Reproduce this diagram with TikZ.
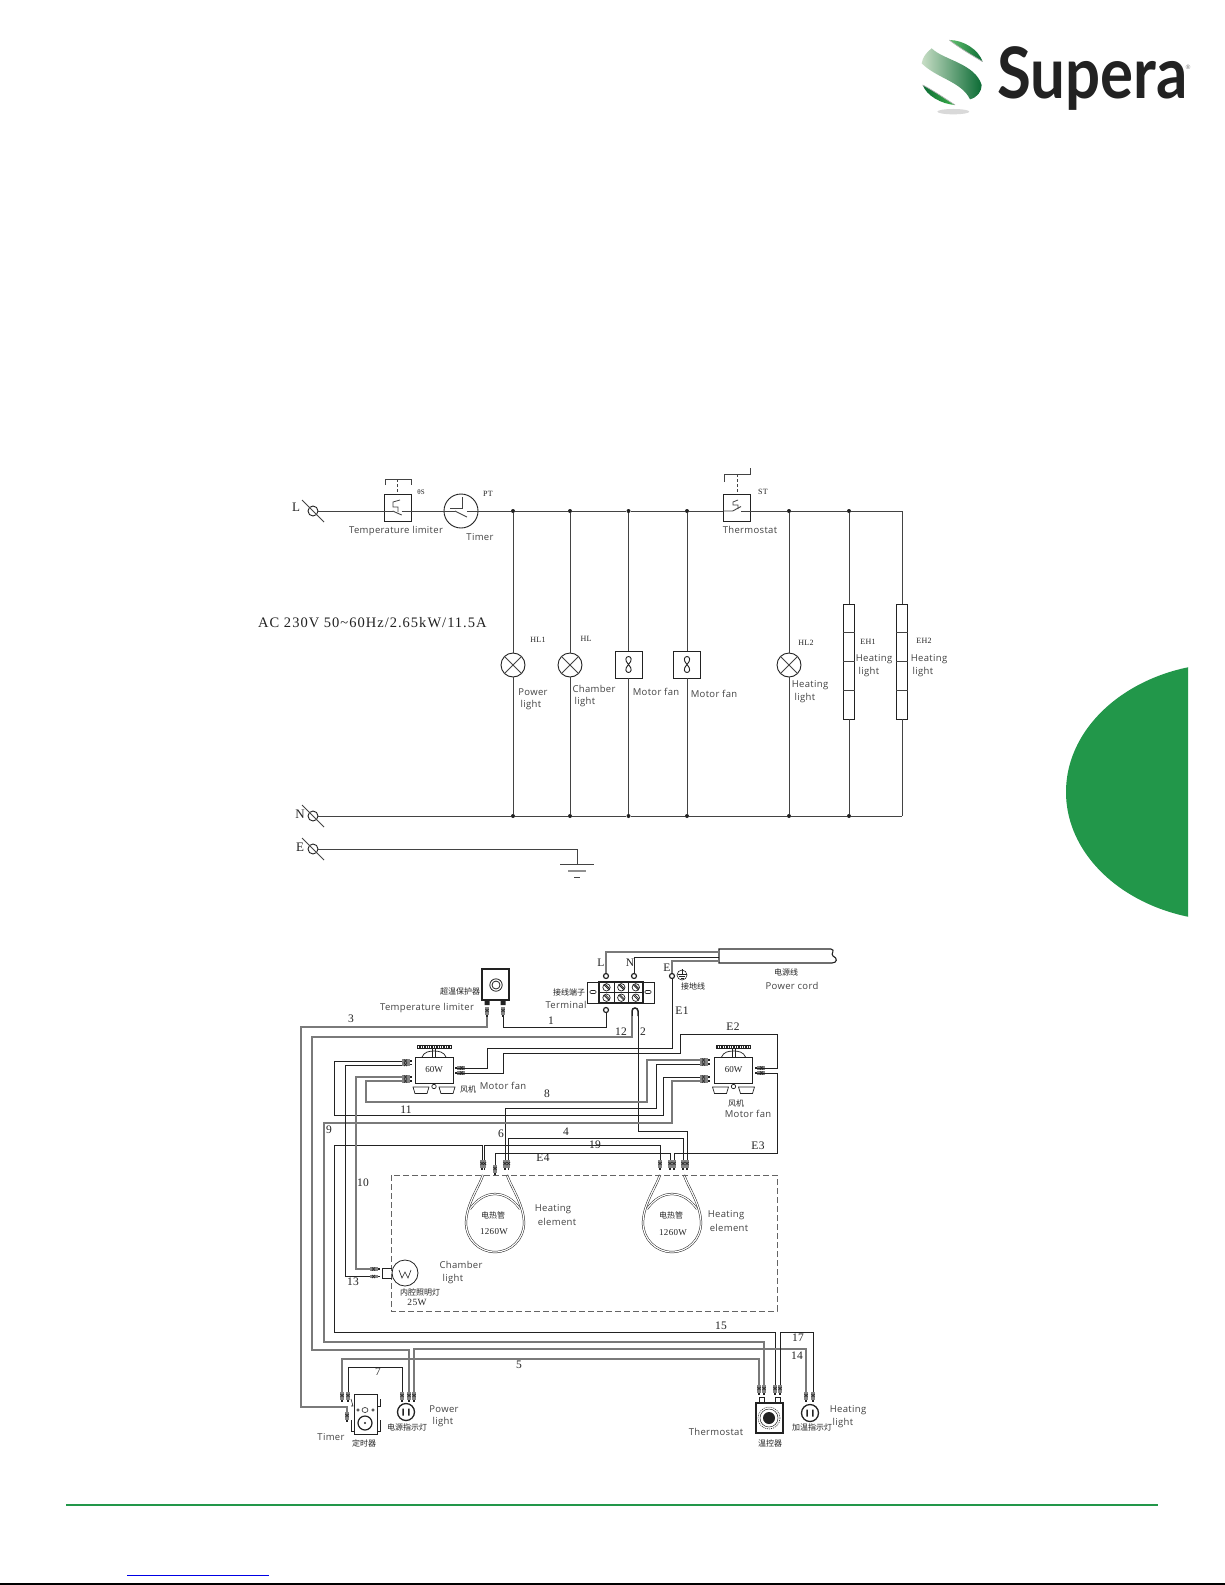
\documentclass[tikz,border=0pt]{standalone}
\usepackage{fontspec}
\usepackage{graphicx}
\setmainfont{Liberation Serif}
\newfontfamily\labf[LetterSpace=3.5]{Open Sans}
\newfontfamily\serf[LetterSpace=3]{Liberation Serif}
\newfontfamily\acf[LetterSpace=7]{Liberation Serif}
\newfontfamily\cjkf{Noto Sans CJK SC}
\newfontfamily\logof{Lato}
\usetikzlibrary{calc}
\definecolor{sgreen}{HTML}{22974A}
\definecolor{ink}{HTML}{222222}
\definecolor{palegreen}{HTML}{C8DEC6}
\definecolor{vivid}{HTML}{3CB14A}
\definecolor{deepgreen}{HTML}{0B6B34}
\tikzset{
  labtxt/.style={font=\labf\fontsize{9.5}{10}\selectfont,text=ink!85,inner sep=0pt},
  sertxt/.style={font=\serf\fontsize{11.5}{12}\selectfont,text=ink,inner sep=0pt},
  tagtxt/.style={font=\serf\fontsize{8}{9}\selectfont,text=ink,inner sep=0pt},
  cjktxt/.style={font=\cjkf\fontsize{8}{9}\selectfont,text=ink,inner sep=0pt},
  line/.style={draw=ink!85,line width=.9pt},
  wire/.style={draw=ink,line width=1pt,line join=miter},
  gwire/.style={draw=ink!60,line width=1.2pt,line join=miter},
  dot/.style={circle,fill=ink,inner sep=0pt,minimum size=4pt},
  termin/.style={circle,draw=ink,line width=.9pt,inner sep=0pt,minimum size=10pt},
  lampn/.style={circle,draw=ink,line width=.9pt,inner sep=0pt,minimum size=24pt},
  boxn/.style={draw=ink,line width=.9pt,inner sep=0pt,minimum width=27pt,minimum height=27pt},
  ring/.style={circle,draw=ink,line width=1.2pt,inner sep=0pt,minimum size=5pt},
  pics/vconn/.style={code={
    \fill[ink!55] (-1.6,0) rectangle (1.6,8);
    \draw[ink,line width=.6pt] (-1.6,2)--(1.6,5) (-1.6,5)--(1.6,2);
    \fill[ink] (-.8,8) rectangle (.8,10);
  }},
  pics/hconn/.style={code={
    \fill[ink!55] (0,-1.6) rectangle (8,1.6);
    \draw[ink,line width=.6pt] (2,-1.6)--(5,1.6) (5,-1.6)--(2,1.6);
    \fill[ink] (8,-.8) rectangle (10,.8);
  }},
  pics/hconnr/.style={code={
    \fill[ink!55] (0,-1.6) rectangle (-8,1.6);
    \draw[ink,line width=.6pt] (-2,-1.6)--(-5,1.6) (-5,-1.6)--(-2,1.6);
    \fill[ink] (-8,-.8) rectangle (-10,.8);
  }},
  pics/fanfig/.style={code={
    \draw[ink,line width=.9pt] (0,0) .. controls (-4,-4) and (-3,-8) .. (0,-8) .. controls (3,-8) and (4,-4) .. (0,0)
      .. controls (-4,4) and (-3,8) .. (0,8) .. controls (3,8) and (4,4) .. (0,0);
  }},
  pics/motor/.style={code={
    \draw[ink,line width=.8pt,fill=white] (-19,-13) rectangle (19,13);
    \draw[ink,line width=.7pt] (-12,-13) .. controls (-10,-18) and (-5,-19) .. (0,-19) .. controls (5,-19) and (10,-18) .. (12,-13);
    \draw[ink,line width=.7pt] (-1.5,-22) -- (-1.5,-13) (1.5,-22) -- (1.5,-13);
    \draw[ink,line width=.6pt] (-17,-24.5) rectangle (17,-21.5);
    \draw[ink,line width=2.4pt,dash pattern=on 1.4pt off 1pt] (-17,-23) -- (17,-23);
    \draw[ink,line width=.7pt] (-21,17) -- (-5,17) -- (-7,23.5) -- (-19,23.5) -- cycle;
    \draw[ink,line width=.7pt] (5,17) -- (21,17) -- (19,23.5) -- (7,23.5) -- cycle;
    \draw[ink,line width=.7pt,fill=white] (0,16.5) circle[radius=2.2];
    \draw[ink,line width=.7pt] (0,13) -- (0,14.5);
    \node[font=\fontsize{9}{10}\selectfont,text=ink,inner sep=0pt] (-w) at (0,0) {60W};
  }},
  pics/heater/.style={code={
    \draw[ink,line width=.5pt,double=white,double distance=1.2pt]
      (-12,-48) .. controls (-16,-36) and (-29,-18) .. (-29,0)
      .. controls (-29,16) and (-16,29) .. (0,29) .. controls (16,29) and (29,16) .. (29,0)
      .. controls (29,-18) and (16,-36) .. (12,-48);
    \draw[ink,line width=.5pt,double=white,double distance=1.2pt]
      (-25,-14) .. controls (-18,-24) and (-9,-29) .. (0,-29) .. controls (9,-29) and (18,-24) .. (25,-14);
  }},
  pics/plug/.style={code={
    \draw[ink,line width=1.3pt,fill=white] (0,0) circle[radius=8.5];
    \fill[ink] (-3.6,-3.5) rectangle (-2.2,3.5) (2.2,-3.5) rectangle (3.6,3.5);
  }},
  pics/scell/.style={code={
    \draw[ink,line width=.7pt] (0,0) circle[radius=3.7];
    \draw[ink,line width=.8pt] (-2.6,-2.6) -- (2.6,2.6);
    \draw[ink,line width=.8pt] (-1.2,-3) -- (3,1.2);
  }}
}
\begin{document}
\begin{tikzpicture}[x=1pt,y=-1pt]
\useasboundingbox (0,0) rectangle (1225,1585);
\fill[white] (0,0) rectangle (1225,1585);

% ---------- page furniture ----------
\begin{scope}
  \clip (1000,600) rectangle (1188,1000);
  \fill[sgreen] (1230,792) ellipse[x radius=164,y radius=129];
\end{scope}
\draw[sgreen,line width=2pt] (66,1505) -- (1158,1505);
\draw[blue!90!black,line width=1pt] (127,1575) -- (269,1575);
\draw[black,line width=1.4pt] (0,1584) -- (1225,1584);

% ---------- logo ----------
\begin{scope}[shift={(900,20)},x=.3333pt,y=-.3333pt]
  \shade[left color=vivid!80,right color=deepgreen]
    (148,60) .. controls (190,60) and (235,88) .. (248,125) .. controls (215,105) and (180,85) .. cycle;
  \draw[gray!60,line width=.7pt] (248,125) .. controls (215,105) and (180,85) .. (148,60);
  \shade[left color=deepgreen,right color=vivid]
    (68,195) .. controls (80,228) and (125,252) .. (165,255) .. controls (130,232) and (100,212) .. cycle;
  \draw[gray!60,line width=.7pt] (165,255) .. controls (130,232) and (100,212) .. (68,195);
  \shade[left color=palegreen,middle color=vivid,right color=deepgreen]
    (95,85) .. controls (130,120) and (225,130) .. (245,195) .. controls (245,215) and (232,232) .. (210,238)
    .. controls (185,185) and (110,175) .. (65,130) .. controls (68,112) and (78,98) .. cycle;
  \fill[gray!30] (160,275) ellipse[x radius=48,y radius=8];
\end{scope}
\node[anchor=base west,inner sep=0pt,text=ink,font=\logof\bfseries\fontsize{71}{71}\selectfont] (logotxt) at (997,98) {\scalebox{.87}[1]{Supera}};
\node[inner sep=0pt,text=gray,font=\logof\fontsize{6}{6}\selectfont] (logor) at (1188,67) {®};

% ---------- upper schematic: nodes ----------
\node[termin] (tL) at (313,511) {};
\node[termin] (tN) at (313,816) {};
\node[termin] (tE) at (313,849) {};
\node[boxn] (lim) at (398,507.5) {};
\node[circle,draw=ink,line width=.9pt,inner sep=0pt,minimum size=34pt] (timer) at (461,511) {};
\node[boxn] (ther) at (737,507.5) {};
\node[dot] (j1) at (513,511) {};
\node[dot] (j2) at (570,511) {};
\node[dot] (j3) at (628.5,511) {};
\node[dot] (j4) at (687,511) {};
\node[dot] (j5) at (789,511) {};
\node[dot] (j6) at (849,511) {};
\coordinate (j7) at (902,511);
\node[dot] (b1) at (513,816) {};
\node[dot] (b2) at (570,816) {};
\node[dot] (b3) at (628.5,816) {};
\node[dot] (b4) at (687,816) {};
\node[dot] (b5) at (789,816) {};
\node[dot] (b6) at (849,816) {};
\coordinate (b7) at (902,816);
\node[lampn] (hl1) at (513,665) {};
\node[lampn] (hl) at (570,665) {};
\node[lampn] (hl2) at (789,665) {};
\node[boxn] (f1) at (628.5,664.5) {};
\node[boxn] (f2) at (687,664.5) {};
\pic at (628.5,664.5) {fanfig};
\pic at (687,664.5) {fanfig};
\foreach \n in {hl1,hl,hl2}{\draw[line] (\n.45) -- (\n.225) (\n.135) -- (\n.315);}
\node[draw=ink,line width=.9pt,inner sep=0pt,minimum width=11pt,minimum height=115pt] (eh1) at (849,661.5) {};
\node[draw=ink,line width=.9pt,inner sep=0pt,minimum width=11pt,minimum height=115pt] (eh2) at (902,661.5) {};
\foreach \n in {eh1,eh2}\foreach \d in {-28.7,0,28.7}{\draw[line] ($(\n.west)+(0,\d)$) -- ($(\n.east)+(0,\d)$);}
\foreach \n in {tL,tN,tE}{\draw[line,line width=.8pt] ($(\n)+(-11,-11)$) -- ($(\n)+(11,11)$);}
\coordinate (g0) at (577,864);
\coordinate (limW) at (lim.west |- tL);
\coordinate (limE) at (lim.east |- tL);
\coordinate (thW) at (ther.west |- tL);
\coordinate (thE) at (ther.east |- tL);

% upper schematic: connectors
\draw[line] (tL) -- (limW);
\draw[line] (limW) -- (392.7,511);
\draw[line] (392.7,511) -- (401.7,515);
\draw[line] (401.7,511) -- (limE);
\draw[line] (limE) -- (timer.west);
\draw[line] (timer.west) -- (455,511);
\draw[line] (455,511) -- (467,517);
\draw[line] (450,508) -- (462,508) -- (462,497);
\draw[line] (467,511) -- (j1);
\draw[line] (j1) -- (j2);
\draw[line] (j2) -- (j3);
\draw[line] (j3) -- (j4);
\draw[line] (j4) -- (thW);
\draw[line] (thW) -- (732.7,511) -- (741,506.5);
\draw[line] (741,511) -- (thE);
\draw[line] (thE) -- (j5);
\draw[line] (j5) -- (j6);
\draw[line] (j6) -- (j7);
\draw[line] (tN) -- (b1);
\draw[line] (b1) -- (b2);
\draw[line] (b2) -- (b3);
\draw[line] (b3) -- (b4);
\draw[line] (b4) -- (b5);
\draw[line] (b5) -- (b6);
\draw[line] (b6) -- (b7);
\draw[line] (j1) -- (hl1);
\draw[line] (hl1) -- (b1);
\draw[line] (j2) -- (hl);
\draw[line] (hl) -- (b2);
\draw[line] (j3) -- (f1);
\draw[line] (f1) -- (b3);
\draw[line] (j4) -- (f2);
\draw[line] (f2) -- (b4);
\draw[line] (j5) -- (hl2);
\draw[line] (hl2) -- (b5);
\draw[line] (j6) -- (eh1);
\draw[line] (eh1) -- (b6);
\draw[line] (j7) -- (eh2);
\draw[line] (eh2) -- (b7);
\draw[line] (tE) -| (g0);
\draw[line] (560,864) -- (594,864);
\draw[ink!50,line width=1.2pt] (568,871) -- (586,871);
\draw[line] (574,877) -- (580,877);
% sensor details
\draw[line] (385,485) -- (385,479) -- (411,479) -- (411,485);
\draw[line,dash pattern=on 3pt off 2pt] (397,479) -- (397,494);
\draw[line,line width=.8pt] (400,500) -- (393,502) -- (393,507) -- (398,507) -- (398,512);
\draw[line] (724,482) -- (724,474) -- (750,474) -- (750,468);
\draw[line,dash pattern=on 3pt off 2pt] (737,474) -- (ther.north);
\draw[line,line width=.8pt] (738,500) -- (733,502) -- (733,505) -- (738,505) -- (738,509);

% upper schematic: texts
\node[font=\fontsize{13}{14}\selectfont,text=ink,inner sep=0pt] (lL) at (296,507) {L};
\node[font=\fontsize{13}{14}\selectfont,text=ink,inner sep=0pt] (lN) at (300,814) {N};
\node[font=\fontsize{13}{14}\selectfont,text=ink,inner sep=0pt] (lE) at (300,847) {E};
\node[anchor=west,font=\acf\fontsize{14.5}{16}\selectfont,text=ink,inner sep=0pt] (ac) at (258,623) {AC 230V 50\char"007E 60Hz/2.65kW/11.5A};
\node[tagtxt] (tS) at (421,492) {\fontsize{7}{8}\selectfont θS};
\node[tagtxt] (tPT) at (488,494) {PT};
\node[tagtxt] (tST) at (763,492) {ST};
\node[tagtxt] (tHL1) at (538,640) {HL1};
\node[tagtxt] (tHL) at (586,639) {HL};
\node[tagtxt] (tHL2) at (806,643) {HL2};
\node[tagtxt] (tEH1) at (868,642) {EH1};
\node[tagtxt] (tEH2) at (924,641) {EH2};
\node[labtxt] (a1) at (396,531) {Temperature limiter};
\node[labtxt] (a2) at (480,537) {Timer};
\node[labtxt] (a3) at (750,530) {Thermostat};
\node[labtxt] (a4) at (533,692) {Power};
\node[labtxt] (a5) at (531,705) {light};
\node[labtxt] (a6) at (594,689) {Chamber};
\node[labtxt] (a7) at (585,702) {light};
\node[labtxt] (a8) at (656,692) {Motor fan};
\node[labtxt] (a9) at (714,694) {Motor fan};
\node[labtxt] (a10) at (810,685) {Heating};
\node[labtxt] (a11) at (805,698) {light};
\node[labtxt] (a12) at (874,659) {Heating};
\node[labtxt] (a13) at (869,672) {light};
\node[labtxt] (a14) at (929,659) {Heating};
\node[labtxt] (a15) at (923,672) {light};

% ---------- lower diagram: devices ----------
% temperature limiter
\node[draw=ink,line width=1.2pt,fill=white,inner sep=0pt,minimum width=27pt,minimum height=31pt] (lbox) at (495.5,984.5) {};
\draw[ink,line width=.8pt] (496,985) circle[radius=6.2] (496,985) circle[radius=4];
\fill[ink] (484.5,1000) rectangle (489.5,1005) (500.5,1000) rectangle (505.5,1005);
\pic at (487,1007) {vconn};
\pic at (503,1007) {vconn};
% terminal block
\node[draw=ink,line width=.8pt,inner sep=0pt,minimum width=67pt,minimum height=21pt] (tblock) at (620.5,992.5) {};
\draw[ink,line width=1.2pt] (599,982) rectangle (643,1003);
\draw[ink,line width=1pt] (599,992.5) -- (643,992.5) (614,982) -- (614,1003) (628.5,982) -- (628.5,1003);
\foreach \x in {606.5,621.3,635.8}{\pic at (\x,987.3) {scell}; \pic at (\x,997.7) {scell};}
\draw[ink,line width=.6pt,rounded corners=1pt] (590,990.5) rectangle (596,993.5);
\draw[ink,line width=.6pt,rounded corners=1pt] (645,990.5) rectangle (651,993.5);
\node[ring] (rL) at (606,976) {};
\node[ring] (rN) at (634,976) {};
\node[ring] (rE) at (672,976) {};
\node[ring] (rB) at (606,1010) {};
\draw[ink,line width=1.5pt] (632,1016) -- (632,1011) .. controls (632,1007) and (638,1007) .. (638,1011) -- (638,1016);
\coordinate (rA1) at (632,1016);
\coordinate (rA2) at (638,1016);
% ground mark
\draw[ink,line width=.6pt] (682,975) circle[radius=5];
\draw[ink,line width=.6pt] (682,969) -- (682,974) (677.5,974) -- (686.5,974) (679,976) -- (685,976) (680.5,978) -- (683.5,978);
% cord
\path (719,949) coordinate (cordA) (719,952) coordinate (cL) (719,957) coordinate (cN) (719,961) coordinate (cE);
\draw[ink,line width=1.1pt] (719,949) -- (831,949) .. controls (836,950) and (830,954) .. (833,956) .. controls (838,958) and (837,963) .. (832,963) -- (719,963) -- cycle;
% motors
\pic (m1) at (434,1070) {motor};
\pic (m2) at (733.5,1070) {motor};
\foreach \y in {1061,1064.5,1077,1081}{\pic at (402,\y) {hconn};}
\foreach \y in {1060,1064,1077,1081}{\pic at (700,\y) {hconn};}
\pic at (465,1068) {hconnr};
\pic at (465,1073) {hconnr};
\pic at (765,1068) {hconnr};
\pic at (765,1073) {hconnr};
% heaters
\pic at (495,1223) {heater};
\pic at (672,1223) {heater};
\foreach \x in {482,484.6,505,508.5,660,670,674,683,687}{\pic at (\x,1160) {vconn};}
\pic at (495,1165) {vconn};
\draw[ink!70,line width=.9pt,dash pattern=on 6pt off 3pt] (391,1175) rectangle (777,1311);
% chamber lamp
\draw[ink,line width=.8pt,fill=white] (405,1273) circle[radius=13];
\draw[ink,line width=.7pt] (391.5,1268) -- (382,1268) -- (382,1278) -- (391.5,1278);
\draw[ink,line width=.6pt] (399,1270) -- (402,1278) -- (405,1272) -- (408,1278) -- (411,1270);
\pic at (370,1269) {hconn};
\pic at (370,1276.5) {hconn};
% timer
\draw[ink,line width=1pt] (354,1394) rectangle (377,1434);
\draw[ink,line width=1.2pt] (365,1423) circle[radius=7];
\fill[ink] (365,1423) circle[radius=1.2];
\draw[ink,line width=.6pt] (358,1410) circle[radius=1.2] (373,1410) circle[radius=1.2];
\draw[ink,line width=.6pt] (365,1410) ellipse[x radius=3,y radius=2.5];
\draw[ink,line width=.6pt] (351,1406) -- (353,1406) -- (351,1399);
\draw[ink,line width=.6pt] (351,1420) -- (351,1431) -- (354,1431);
\draw[ink,line width=.6pt] (380,1399) -- (380,1406) -- (377,1406);
\draw[ink,line width=.6pt] (380,1420) -- (380,1431) -- (377,1431);
\pic at (342,1392) {vconn};
\pic at (348,1392) {vconn};
\pic at (347,1412) {vconn};
% power light
\pic at (406,1412) {plug};
\pic at (402,1392) {vconn};
\pic at (409,1392) {vconn};
\pic at (414,1392) {vconn};
% thermostat
\draw[ink,line width=1.3pt] (756,1403) rectangle (783,1433);
\draw[ink,line width=.6pt,dash pattern=on 1pt off 1pt] (769,1418) circle[radius=11];
\draw[ink,line width=.5pt] (769,1418) circle[radius=9];
\fill[ink] (769,1418) circle[radius=6];
\draw[ink,line width=.6pt] (759.5,1397.5) rectangle (764.5,1402.5) (775.5,1397.5) rectangle (780.5,1402.5);
\foreach \x in {759,764,775,780}{\pic at (\x,1385) {vconn};}
% heating light
\pic at (810,1413) {plug};
\pic at (806,1392) {vconn};
\pic at (813,1392) {vconn};

% ---------- lower diagram: wires ----------
\coordinate (w3a) at (487,1017);
\coordinate (w3b) at (347,1412);
\coordinate (w1a) at (503,1017);
\coordinate (pl1) at (409,1392);
\coordinate (pl2) at (414,1392);
\coordinate (pl3) at (402,1392);
\coordinate (tm1) at (342,1392);
\coordinate (tm2) at (348,1392);
\coordinate (th1) at (759,1385);
\coordinate (th2) at (764,1385);
\coordinate (th3) at (775,1385);
\coordinate (th4) at (780,1385);
\coordinate (hl3) at (806,1392);
\coordinate (hl4) at (813,1392);
\coordinate (ma1) at (402,1061);
\coordinate (ma2) at (402,1065);
\coordinate (ma3) at (402,1077);
\coordinate (ma4) at (402,1081);
\coordinate (mb1) at (700,1060);
\coordinate (mb2) at (700,1064);
\coordinate (mb3) at (700,1077);
\coordinate (mb4) at (700,1081);
\coordinate (mar1) at (455,1068);
\coordinate (mar2) at (455,1073);
\coordinate (mbr1) at (755,1068);
\coordinate (mbr2) at (755,1073);
\coordinate (eA1) at (482,1160);
\coordinate (eA2) at (484.6,1160);
\coordinate (eA3) at (495,1165);
\coordinate (eA4) at (505,1160);
\coordinate (eA5) at (508.5,1160);
\coordinate (eB1) at (660,1160);
\coordinate (eB2) at (670,1160);
\coordinate (eB3) at (674,1160);
\coordinate (eB4) at (683,1160);
\coordinate (eB5) at (687,1160);
\coordinate (cl1) at (370,1269);
\coordinate (cl2) at (370,1276.5);

\draw[gwire] (w3a) -- (487,1027) -- (301,1027) -- (301,1407) -- (347,1407) -- (w3b);
\draw[wire] (w1a) -- (503,1027) -- (606,1027) -- (rB);
\draw[gwire] (rA1) -- (632,1037) -- (312,1037) -- (312,1350) -- (409,1350) -- (pl1);
\draw[wire] (rA2) -- (638,1131) -- (687,1131) -- (eB5);
\draw[wire] (eA5) -- (508.5,1138) -- (683,1138) -- (eB4);
\draw[wire] (eA4) -- (505,1108) -- (656,1108) -- (656,1064) -- (mb2);
\draw[wire] (eA2) -- (484.6,1145) -- (660,1145) -- (eB1);
\draw[wire] (eA1) -- (482,1145) -- (334,1145) -- (334,1332) -- (775,1332) -- (th3);
\draw[gwire] (mb4) -- (672,1081) -- (672,1123) -- (324,1123) -- (324,1342) -- (764,1342) -- (th2);
\draw[wire] (ma1) -- (334,1061) -- (334,1115) -- (663,1115) -- (663,1077) -- (mb3);
\draw[gwire] (ma4) -- (366,1081) -- (366,1102) -- (647,1102) -- (647,1060) -- (mb1);
\draw[wire] (eA3) -- (495,1153) -- (670,1153) -- (eB2);
\draw[wire] (eB3) -- (674,1153) -- (777,1153) -- (777,1073) -- (mbr2);
\draw[wire] (mar2) -- (503,1073) -- (503,1053) -- (680,1053) -- (680,1034) -- (777,1034) -- (777,1068) -- (mbr1);
\draw[wire] (mar1) -- (487,1068) -- (487,1048) -- (672,1048) -- (rE);
\draw[gwire] (ma3) -- (356,1077) -- (356,1269) -- (cl1);
\draw[wire] (ma2) -- (345,1065) -- (345,1276.5) -- (cl2);
\draw[gwire] (pl2) -- (414,1349) -- (806,1349) -- (hl3);
\draw[wire] (th4) -- (780,1332) -- (813,1332) -- (hl4);
\draw[gwire] (tm1) -- (342,1359) -- (759,1359) -- (th1);
\draw[wire] (tm2) -- (348,1367) -- (402,1367) -- (pl3);
\draw[gwire] (rL) |- (cL);
\draw[wire] (rN) |- (cN);
\draw[gwire] (rE) |- (cE);

% ---------- lower diagram: texts ----------
\node[sertxt] (n3) at (351,1019) {3};
\node[sertxt] (n1) at (551,1021) {1};
\node[sertxt] (n12) at (621,1032) {12};
\node[sertxt] (n2) at (643,1032) {2};
\node[sertxt] (n8) at (547,1094) {8};
\node[sertxt] (n11) at (406,1110) {11};
\node[sertxt] (n9) at (329,1130) {9};
\node[sertxt] (n6) at (501,1134) {6};
\node[sertxt] (n4) at (566,1132) {4};
\node[sertxt] (n19) at (595,1145) {19};
\node[sertxt] (nE4) at (543,1158) {E4};
\node[sertxt] (nE3) at (758,1146) {E3};
\node[sertxt] (nE2) at (733,1027) {E2};
\node[sertxt] (nE1) at (682,1011) {E1};
\node[sertxt] (n10) at (363,1183) {10};
\node[sertxt] (n13) at (353,1282) {13};
\node[sertxt] (n15) at (721,1326) {15};
\node[sertxt] (n17) at (798,1338) {17};
\node[sertxt] (n14) at (797,1356) {14};
\node[sertxt] (n5) at (519,1365) {5};
\node[sertxt] (n7) at (378,1372) {7};
\node[sertxt] (nL) at (601,963) {L};
\node[sertxt] (nN) at (630,963) {N};
\node[sertxt] (nE) at (667,968) {E};
\node[cjktxt] (c1) at (460,991) {超温保护器};
\node[cjktxt] (c2) at (569,992) {接线端子};
\node[cjktxt] (c3) at (693,986) {接地线};
\node[cjktxt] (c4) at (786,972) {电源线};
\node[cjktxt] (c5) at (468,1089) {风机};
\node[cjktxt] (c6) at (736,1103) {风机};
\node[cjktxt] (c7) at (493,1215) {电热管};
\node[cjktxt] (c8) at (671,1215) {电热管};
\node[cjktxt] (c9) at (420,1292) {内腔照明灯};
\node[cjktxt] (c10) at (364,1443) {定时器};
\node[cjktxt] (c11) at (407,1427) {电源指示灯};
\node[cjktxt] (c12) at (770,1443) {温控器};
\node[cjktxt] (c13) at (812,1427) {加温指示灯};
\node[tagtxt,font=\serf\fontsize{9}{10}\selectfont] (v1) at (494,1232) {1260W};
\node[tagtxt,font=\serf\fontsize{9}{10}\selectfont] (v2) at (673,1233) {1260W};
\node[tagtxt,font=\serf\fontsize{9.5}{10}\selectfont] (v3) at (417,1302) {25W};
\node[labtxt] (d1) at (427,1008) {Temperature limiter};
\node[labtxt] (d2) at (566,1005) {Terminal};
\node[labtxt] (d3) at (792,986) {Power cord};
\node[labtxt] (d4) at (503,1086) {Motor fan};
\node[labtxt] (d5) at (748,1114) {Motor fan};
\node[labtxt] (d6) at (553,1209) {Heating};
\node[labtxt] (d7) at (557,1222) {element};
\node[labtxt] (d8) at (726,1215) {Heating};
\node[labtxt] (d9) at (729,1228) {element};
\node[labtxt] (d10) at (461,1265) {Chamber};
\node[labtxt] (d11) at (453,1279) {light};
\node[labtxt] (d12) at (331,1437) {Timer};
\node[labtxt] (d13) at (444,1409) {Power};
\node[labtxt] (d14) at (443,1422) {light};
\node[labtxt] (d15) at (716,1432) {Thermostat};
\node[labtxt] (d16) at (848,1410) {Heating};
\node[labtxt] (d17) at (843,1423) {light};
\end{tikzpicture}
\end{document}
